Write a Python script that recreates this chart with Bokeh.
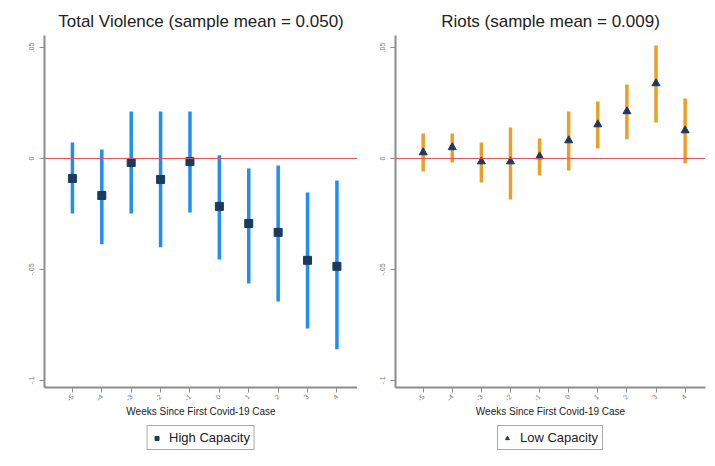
from bokeh.plotting import figure
from bokeh.layouts import row, column
from bokeh.models import Span, Legend, LegendItem, FixedTicker, Range1d
from bokeh.embed import file_html
from bokeh.resources import INLINE

weeks = [-5, -4, -3, -2, -1, 0, 1, 2, 3, 4]
week_labels = ["-5", "-4", "-3", "-2", "-1", "0", "1", "2", "3", "4"]

tv_coef = [-0.009, -0.0167, -0.0018, -0.0095, -0.0014, -0.0216, -0.0293, -0.0333, -0.0459, -0.0486]
tv_hi = [0.0072, 0.004, 0.0212, 0.0212, 0.0212, 0.0014, -0.0045, -0.0032, -0.0153, -0.0099]
tv_lo = [-0.0248, -0.0387, -0.0248, -0.040, -0.0243, -0.0455, -0.0563, -0.0644, -0.0766, -0.086]

riot_coef = [0.0027, 0.005, -0.0014, -0.0014, 0.0009, 0.0081, 0.0153, 0.0212, 0.0338, 0.0126]
riot_hi = [0.0113, 0.0113, 0.0072, 0.014, 0.009, 0.0212, 0.0257, 0.0333, 0.0509, 0.027]
riot_lo = [-0.0059, -0.0018, -0.0108, -0.0185, -0.0077, -0.0054, 0.0045, 0.0086, 0.0162, -0.0023]

y_ticks = [0.05, 0.0, -0.05, -0.1]
y_tick_labels = [".05", "0", "-.05", "-.1"]

FONT = "Liberation Sans"
MARKER_COLOR = "#1b3a5c"


def make_panel(title, coef, lo, hi, bar_color, marker, width, border_left, border_right):
    p = figure(width=width, height=424,
               x_range=Range1d(-5.95, 4.7), y_range=Range1d(-0.1032, 0.0554),
               output_backend="svg", toolbar_location=None,
               min_border_left=border_left, min_border_right=border_right,
               min_border_top=35, min_border_bottom=37, title=title)
    p.title.text_font = FONT
    p.title.text_font_size = "17px"
    p.title.text_font_style = "normal"
    p.title.text_color = "#222222"
    p.title.align = "center"
    p.outline_line_color = None
    p.grid.visible = False
    p.background_fill_color = "white"

    p.add_layout(Span(location=0, dimension="width", line_color="#e0505e", line_width=1))

    p.segment(x0=weeks, y0=lo, x1=weeks, y1=hi, line_color=bar_color, line_width=3.5)
    p.scatter(weeks, coef, marker=marker, size=8, fill_color=MARKER_COLOR, line_color=MARKER_COLOR)

    p.yaxis.ticker = FixedTicker(ticks=y_ticks)
    p.yaxis.major_label_overrides = {t: l for t, l in zip(y_ticks, y_tick_labels)}
    p.yaxis.major_label_orientation = "vertical"
    p.yaxis.minor_tick_line_color = None
    p.yaxis.major_tick_in = 0
    p.yaxis.major_tick_out = 5
    p.xaxis.ticker = FixedTicker(ticks=weeks)
    p.xaxis.major_label_overrides = {w: l for w, l in zip(weeks, week_labels)}
    p.xaxis.major_label_orientation = 0.785
    p.xaxis.minor_tick_line_color = None
    p.xaxis.major_tick_in = 0
    p.xaxis.major_tick_out = 5
    p.xaxis.major_label_standoff = 3
    p.xaxis.axis_label = "Weeks Since First Covid-19 Case"
    p.xaxis.axis_label_text_font = FONT
    p.xaxis.axis_label_text_font_size = "10px"
    p.xaxis.axis_label_text_font_style = "normal"
    p.xaxis.axis_label_text_color = "#222222"
    p.xaxis.axis_label_standoff = 0
    for ax in (p.xaxis, p.yaxis):
        ax.axis_line_color = "#8c8c8c"
        ax.axis_line_width = 2
        ax.major_tick_line_color = "#8c8c8c"
        ax.major_label_text_font = FONT
        ax.major_label_text_font_size = "7px"
        ax.major_label_text_color = "#777777"
    return p


def make_legend(marker, label, width, border_left, border_right):
    q = figure(width=width, height=40, x_range=Range1d(0, 1), y_range=Range1d(0, 1),
               output_backend="svg", toolbar_location=None,
               min_border_left=border_left, min_border_right=border_right,
               min_border_top=0, min_border_bottom=0)
    q.axis.visible = False
    q.grid.visible = False
    q.outline_line_color = None
    # point placed outside the visible range: only its legend glyph is shown
    r = q.scatter([-10], [-10], marker=marker, size=8, fill_color=MARKER_COLOR, line_color=MARKER_COLOR)
    legend = Legend(items=[LegendItem(label=label, renderers=[r])],
                    location="top_center", orientation="horizontal",
                    border_line_color="#555555", border_line_width=1,
                    label_text_font=FONT, label_text_font_size="13px",
                    label_text_color="#222222",
                    glyph_width=10, glyph_height=10, padding=4, margin=1,
                    spacing=0, label_standoff=8, label_height=13)
    q.add_layout(legend)
    return q


left = make_panel("Total Violence (sample mean = 0.050)", tv_coef, tv_lo, tv_hi,
                  "#1e8ef0", "square", 357, 44, 0)
right = make_panel("Riots (sample mean = 0.009)", riot_coef, riot_lo, riot_hi,
                   "#e8a025", "triangle", 350, 38, 2)
left_leg = make_legend("square", "High Capacity", 357, 44, 0)
right_leg = make_legend("triangle", "Low Capacity", 350, 38, 2)

layout = column(row(left, right), row(left_leg, right_leg))
open("out.html", "w").write(file_html(layout, INLINE))
